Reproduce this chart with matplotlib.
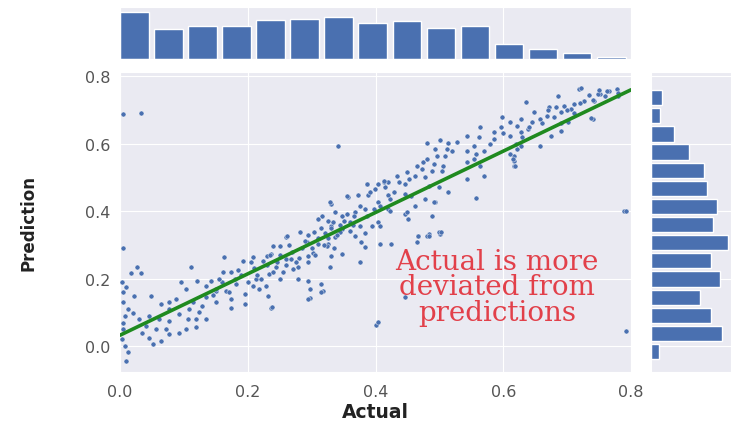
import matplotlib
matplotlib.use('Agg')
import matplotlib.pyplot as plt
import numpy as np
import seaborn as sns

sns.set_style('darkgrid')
plt.rcParams['font.family'] = ['DejaVu Sans']

# scatter points (actual, prediction)
actual = [
    0.004, 0.033, 0.342, 0.557, 0.789, 0.792, 0.400, 0.404, 0.446, 0.376, 0.004,
    0.027, 0.017, 0.033, 0.111, 0.163, 0.192, 0.208, 0.224, 0.237, 0.250, 0.260, 0.009, 0.022, 0.048, 0.095,
    0.004, 0.012, 0.020, 0.008, 0.004, 0.007, 0.012, 0.009, 0.003, 0.004, 0.005, 0.003,
    0.035, 0.046, 0.051, 0.064, 0.077, 0.093, 0.103, 0.119, 0.072, 0.056, 0.041, 0.030, 0.046, 0.061,
    0.077, 0.093, 0.106, 0.119, 0.134, 0.124, 0.108, 0.088, 0.077, 0.064, 0.103, 0.121, 0.134, 0.142,
    0.150, 0.134, 0.150, 0.114, 0.129, 0.166, 0.161, 0.174, 0.182, 0.174, 0.174, 0.195, 0.195, 0.208,
    0.218, 0.213, 0.229, 0.231, 0.237, 0.234, 0.244, 0.255, 0.260, 0.250, 0.077, 0.297, 0.238, 0.317,
    0.268, 0.279, 0.271, 0.295, 0.302, 0.310, 0.295, 0.326, 0.336, 0.347, 0.331, 0.321, 0.368, 0.383,
    0.394, 0.404, 0.378, 0.407, 0.425, 0.383, 0.279, 0.295, 0.297, 0.315, 0.315, 0.295, 0.331, 0.347,
    0.328, 0.467, 0.483, 0.501, 0.465, 0.481, 0.499,
    0.682, 0.672, 0.690, 0.669, 0.658, 0.648, 0.645, 0.627, 0.622, 0.611, 0.598, 0.596, 0.585, 0.585,
    0.564, 0.562, 0.554, 0.544, 0.557, 0.570, 0.554, 0.544, 0.564, 0.570, 0.544, 0.611, 0.627, 0.638,
    0.627, 0.622, 0.674, 0.690, 0.701, 0.706, 0.695, 0.617, 0.617, 0.617, 0.658, 0.719, 0.734, 0.752,
    0.765, 0.778, 0.742, 0.727, 0.711, 0.740, 0.685, 0.635, 0.722, 0.749, 0.763, 0.779,
    0.480, 0.501, 0.514, 0.493, 0.519, 0.509, 0.475, 0.491, 0.506, 0.472, 0.488, 0.504, 0.462, 0.477,
    0.452, 0.436, 0.420, 0.404, 0.386, 0.399, 0.415, 0.446, 0.483, 0.499, 0.514, 0.493, 0.488, 0.446,
    0.420, 0.404, 0.389, 0.373, 0.357, 0.331, 0.336, 0.316, 0.310, 0.326, 0.347, 0.368, 0.383, 0.420,
    0.446, 0.451, 0.462, 0.477,
    0.360, 0.376, 0.392, 0.413, 0.434, 0.450, 0.465, 0.481, 0.497, 0.512, 0.528, 0.543, 0.387, 0.407,
    0.423, 0.450, 0.491, 0.455, 0.429, 0.502, 0.467, 0.483, 0.616, 0.619, 0.611, 0.737, 0.792,
    0.303, 0.329, 0.355, 0.387, 0.413, 0.262, 0.282, 0.334, 0.366, 0.397, 0.293, 0.324, 0.345, 0.376,
    0.407, 0.423, 0.240, 0.230,
    0.150, 0.160, 0.170, 0.180, 0.190, 0.200, 0.210, 0.220, 0.230, 0.240, 0.250, 0.260, 0.270, 0.280,
    0.290, 0.300, 0.310, 0.320, 0.330, 0.340, 0.350, 0.360, 0.145, 0.155, 0.185, 0.205, 0.215, 0.235,
    0.245, 0.265, 0.275, 0.285, 0.295, 0.305, 0.315, 0.325, 0.335, 0.345, 0.355, 0.365,
    0.580, 0.600, 0.620, 0.640, 0.660, 0.680, 0.700, 0.720, 0.740, 0.760, 0.780, 0.630, 0.670, 0.710,
    0.750, 0.690,
]
prediction = [
    0.687, 0.690, 0.592, 0.440, 0.401, 0.044, 0.062, 0.070, 0.144, 0.249, 0.290,
    0.233, 0.216, 0.216, 0.235, 0.265, 0.253, 0.263, 0.253, 0.273, 0.297, 0.322, 0.174, 0.147, 0.147, 0.190,
    0.129, 0.109, 0.097, 0.090, 0.069, 0.001, -0.019, -0.045, 0.020, 0.050, 0.160, 0.190,
    0.040, 0.025, 0.005, 0.015, 0.035, 0.040, 0.050, 0.055, 0.050, 0.050, 0.060, 0.080, 0.090, 0.080,
    0.109, 0.094, 0.080, 0.080, 0.080, 0.100, 0.110, 0.139, 0.129, 0.124, 0.168, 0.193, 0.178, 0.193,
    0.164, 0.144, 0.129, 0.129, 0.119, 0.164, 0.218, 0.218, 0.183, 0.139, 0.114, 0.124, 0.154, 0.178,
    0.168, 0.198, 0.178, 0.149, 0.114, 0.213, 0.233, 0.218, 0.258, 0.198, 0.075, 0.142, 0.115, 0.163,
    0.258, 0.233, 0.228, 0.248, 0.277, 0.302, 0.268, 0.302, 0.322, 0.346, 0.356, 0.336, 0.327, 0.336,
    0.356, 0.366, 0.307, 0.302, 0.302, 0.292, 0.198, 0.193, 0.168, 0.183, 0.159, 0.139, 0.268, 0.273,
    0.233, 0.327, 0.332, 0.332, 0.308, 0.326, 0.338,
    0.707, 0.707, 0.692, 0.682, 0.673, 0.692, 0.663, 0.673, 0.653, 0.663, 0.678, 0.648, 0.633, 0.613,
    0.648, 0.618, 0.593, 0.579, 0.569, 0.579, 0.554, 0.544, 0.534, 0.505, 0.495, 0.623, 0.633, 0.643,
    0.593, 0.584, 0.623, 0.638, 0.663, 0.702, 0.712, 0.564, 0.549, 0.532, 0.593, 0.761, 0.744, 0.747,
    0.757, 0.761, 0.727, 0.727, 0.717, 0.673, 0.742, 0.722, 0.764, 0.747, 0.756, 0.741,
    0.601, 0.611, 0.601, 0.584, 0.579, 0.562, 0.544, 0.539, 0.534, 0.525, 0.520, 0.520, 0.505, 0.500,
    0.495, 0.485, 0.485, 0.480, 0.480, 0.465, 0.470, 0.480, 0.475, 0.470, 0.455, 0.426, 0.386, 0.450,
    0.446, 0.426, 0.446, 0.446, 0.441, 0.421, 0.396, 0.386, 0.376, 0.371, 0.386, 0.396, 0.406, 0.406,
    0.391, 0.376, 0.416, 0.436,
    0.367, 0.416, 0.456, 0.486, 0.504, 0.516, 0.533, 0.554, 0.563, 0.584, 0.604, 0.622, 0.385, 0.415,
    0.400, 0.397, 0.427, 0.444, 0.456, 0.338, 0.326, 0.326, 0.554, 0.533, 0.569, 0.676, 0.400,
    0.338, 0.427, 0.445, 0.480, 0.489, 0.326, 0.338, 0.367, 0.385, 0.406, 0.308, 0.296, 0.338, 0.356,
    0.356, 0.436, 0.296, 0.267,
    0.170, 0.190, 0.160, 0.200, 0.210, 0.190, 0.230, 0.200, 0.240, 0.220, 0.270, 0.240, 0.280, 0.260,
    0.310, 0.290, 0.320, 0.300, 0.350, 0.330, 0.370, 0.340, 0.150, 0.200, 0.225, 0.250, 0.210, 0.270,
    0.250, 0.300, 0.250, 0.290, 0.330, 0.270, 0.350, 0.320, 0.290, 0.360, 0.390, 0.360,
    0.600, 0.630, 0.600, 0.650, 0.660, 0.680, 0.700, 0.720, 0.730, 0.740, 0.750, 0.620, 0.700, 0.690,
    0.760, 0.660,
]

# fitted line
fit_slope = 0.909
fit_intercept = 0.032

# marginal histograms (bar heights)
top_edges = np.linspace(0.0, 0.8, 16)
top_counts = [41, 26, 29, 29, 34, 35, 36, 31, 33, 27, 29, 13, 9, 5, 2]
right_edges = np.linspace(-0.039, 0.767, 16)
right_counts = [4, 38, 32, 26, 37, 32, 41, 33, 35, 30, 28, 20, 12, 5, 6]

ticks = [0.0, 0.2, 0.4, 0.6, 0.8]
tick_labels = ['0.0', '0.2', '0.4', '0.6', '0.8']

blue = '#4a70b0'

fig = plt.figure(figsize=(7.31, 4.27), dpi=100)
ax = fig.add_axes([0.1642, 0.1265, 0.699, 0.7026])
ax_top = fig.add_axes([0.1642, 0.8595, 0.699, 0.1218], sharex=ax)
ax_right = fig.add_axes([0.8906, 0.1265, 0.1094, 0.7026], sharey=ax)

# main scatter + line
ax.scatter(actual, prediction, s=13, color=blue, edgecolor='white', linewidth=0.3, zorder=3)
xs = np.array([0.0, 0.8])
ax.plot(xs, fit_slope * xs + fit_intercept, color='#1f8a1f', lw=2.6, zorder=4)

ax.set_xlim(0, 0.8)
ax.set_ylim(-0.077, 0.812)
ax.set_xticks(ticks)
ax.set_xticklabels(tick_labels)
ax.set_yticks(ticks)
ax.set_yticklabels(tick_labels)
ax.tick_params(axis='x', labelsize=11.5, labelcolor='#555555', pad=9)
ax.tick_params(axis='y', labelsize=11.5, labelcolor='#555555', pad=7)
ax.set_xlabel('Actual', fontsize=13.5, fontweight='bold', color='#222222', labelpad=2)
ax.set_ylabel('Prediction', fontsize=12, fontweight='bold', color='#222222', labelpad=34)

ax.text(0.59, 0.176, 'Actual is more\ndeviated from\npredictions', color='#e2404a',
        fontsize=20, family='DejaVu Serif', ha='center', va='center',
        multialignment='center', linespacing=0.93, zorder=5)

# top histogram
top_w = np.diff(top_edges)
ax_top.bar(top_edges[:-1], top_counts, width=top_w * 0.84, align='edge', color=blue)
ax_top.set_ylim(0, max(top_counts) * 1.1)
ax_top.set_yticks([])
plt.setp(ax_top.get_xticklabels(), visible=False)

# right histogram
right_h = np.diff(right_edges)
ax_right.barh(right_edges[:-1], right_counts, height=right_h * 0.84, align='edge', color=blue)
ax_right.set_xlim(0, max(right_counts) * 1.04)
ax_right.set_xticks([])
plt.setp(ax_right.get_yticklabels(), visible=False)

for a in [ax, ax_top, ax_right]:
    a.tick_params(length=0)

plt.savefig('out.png', dpi=100)
